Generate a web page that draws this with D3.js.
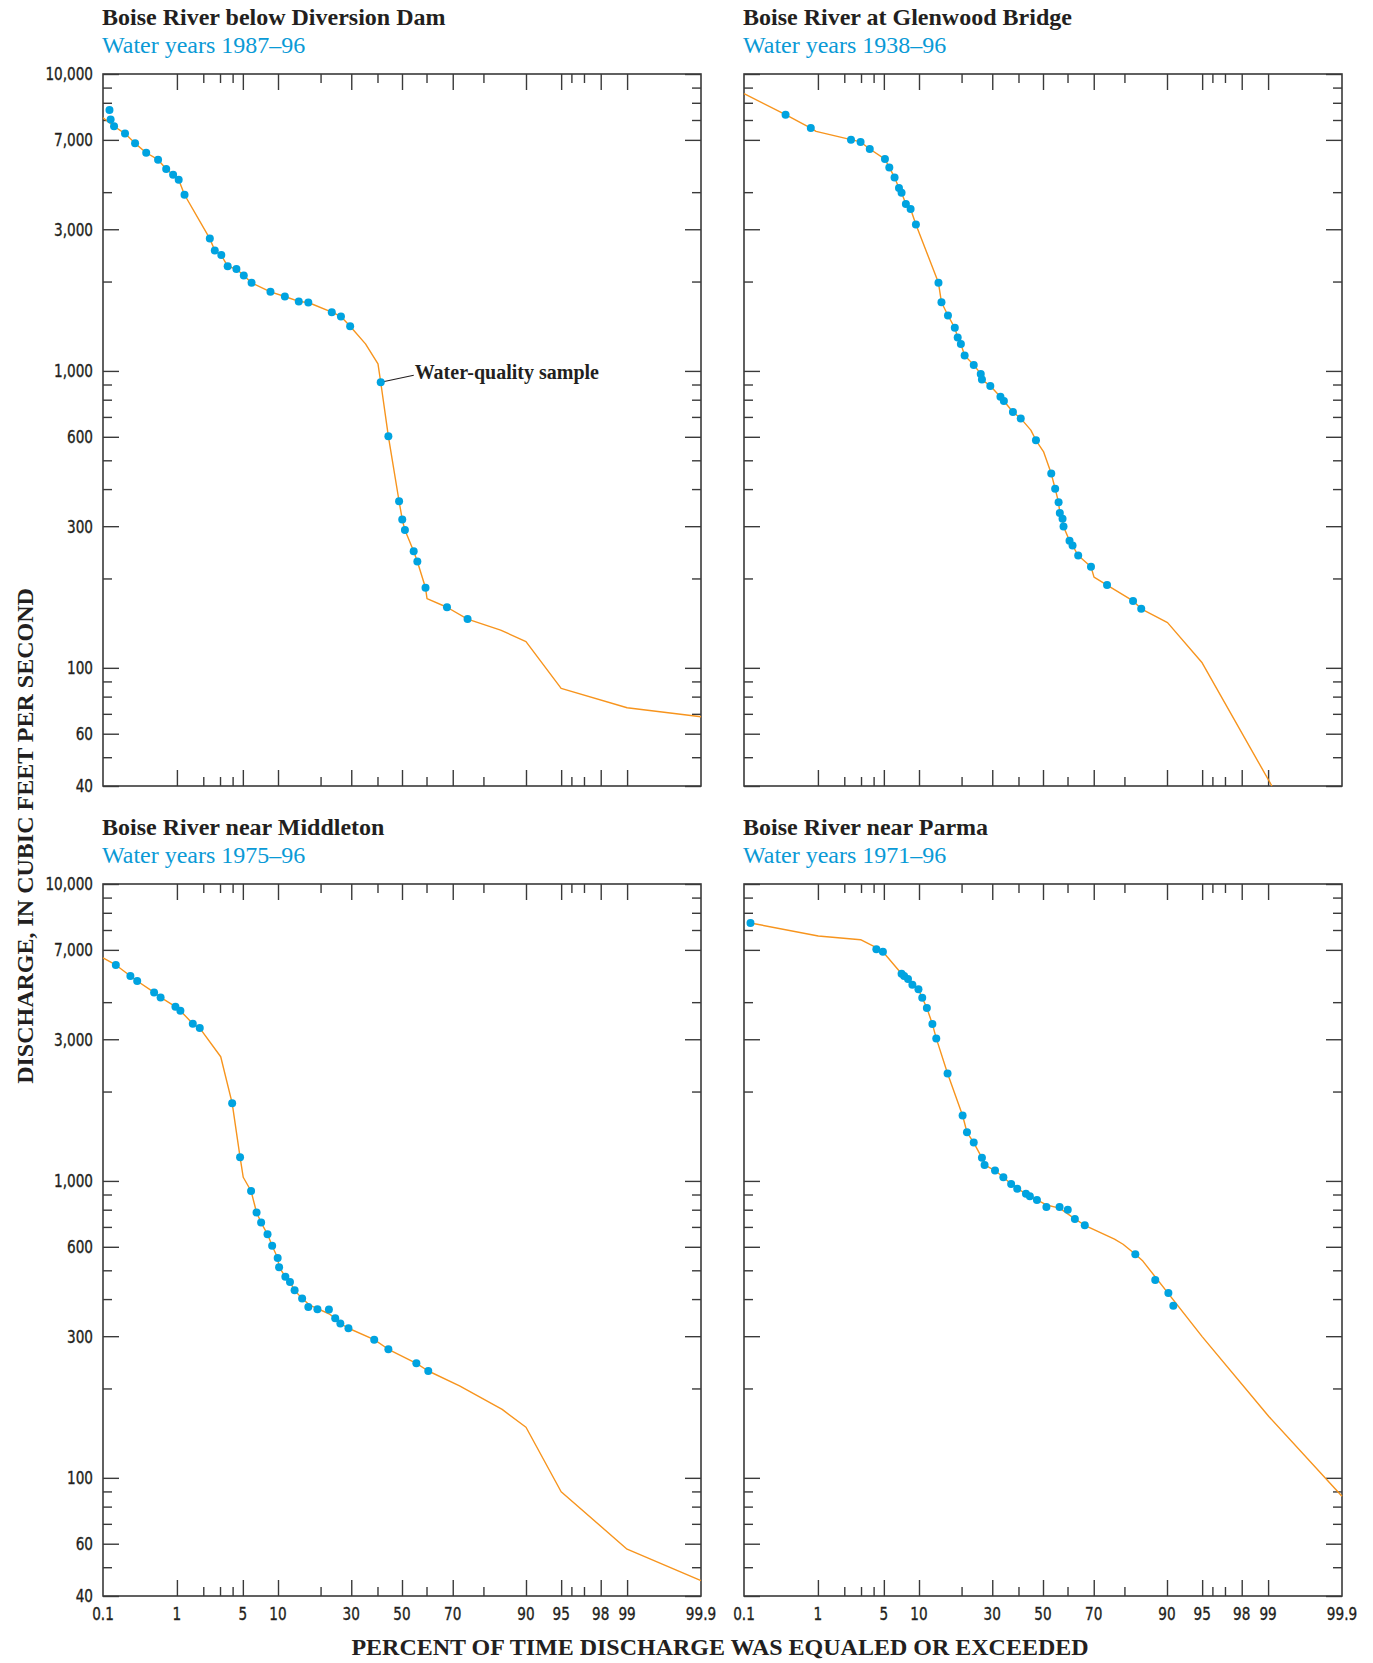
<!DOCTYPE html>
<html>
<head>
<meta charset="utf-8">
<script src="https://cdn.jsdelivr.net/npm/d3@7"></script>
<style>
  body { margin: 0; background: #fff; }
  svg { display: block; }
  .title { font-family: "Liberation Serif", "Times New Roman", serif; font-weight: bold; font-size: 24px; fill: #231f20; }
  .years { font-family: "Liberation Serif", "Times New Roman", serif; font-size: 24px; fill: #0a9ad6; }
  .tickLabel { font-family: "DejaVu Sans Condensed", "DejaVu Sans", sans-serif; font-size: 18px; fill: #231f20; stroke: #231f20; stroke-width: 0.35px; }
  .axisTitle { font-family: "Liberation Serif", "Times New Roman", serif; font-weight: bold; font-size: 24px; fill: #231f20; }
  .note { font-family: "Liberation Serif", "Times New Roman", serif; font-weight: bold; font-size: 20px; fill: #231f20; }
</style>
</head>
<body>
<svg id="chart" width="1373" height="1663"></svg>
<script>

// ---------------------------
// DATA  [percent exceeded, discharge ft3/s]
// ---------------------------

const titles = [
    "Boise River below Diversion Dam",
    "Boise River at Glenwood Bridge",
    "Boise River near Middleton",
    "Boise River near Parma"
];
const yearLabels = ["Water years 1987–96", "Water years 1938–96", "Water years 1975–96", "Water years 1971–96"];

const diversionLine = [
    [0.1, 7125], [0.146, 6670], [0.21, 6300], [0.29, 5840], [0.41, 5430], [0.585, 5145], [0.74, 4785],
    [0.9, 4580], [1.05, 4405], [1.23, 3920], [2.35, 2790], [2.65, 2545], [3.09, 2455], [3.58, 2250],
    [4.35, 2205], [5.1, 2096], [6.0, 1980], [8.7, 1847], [11.3, 1781], [14.3, 1714], [16.65, 1700],
    [23.4, 1577], [26.4, 1525], [29.6, 1414], [35.3, 1233], [40.2, 1056], [41.3, 916], [44.4, 602],
    [48.8, 364], [50.1, 316], [51.2, 291], [54.8, 247], [56.3, 228], [59.6, 186], [60.2, 171],
    [67.9, 160], [75.1, 146], [84.6, 134], [90, 122.6], [95, 85.3], [99, 73.4], [99.9, 68.4]
];
const diversionDots = [
    [0.125, 7570], [0.13, 7030], [0.146, 6670], [0.21, 6300], [0.29, 5840], [0.41, 5430], [0.585, 5145],
    [0.74, 4785], [0.9, 4580], [1.05, 4405], [1.23, 3920], [2.35, 2790], [2.65, 2545], [3.09, 2455],
    [3.58, 2250], [4.35, 2205], [5.1, 2096], [6.0, 1980], [8.7, 1847], [11.3, 1781], [14.3, 1714],
    [16.65, 1700], [23.4, 1577], [26.4, 1525], [29.6, 1414], [41.3, 916], [44.4, 602], [48.8, 364],
    [50.1, 316], [51.2, 291], [54.8, 247], [56.3, 228], [59.6, 186], [67.9, 160], [75.1, 146]
];

const glenwoodLine = [
    [0.1, 8590], [0.39, 7295], [0.82, 6575], [0.95, 6410], [2.36, 6010], [2.97, 5905], [3.67, 5590],
    [5.12, 5170], [5.61, 4845], [6.25, 4485], [6.83, 4130], [7.19, 3983], [7.82, 3647], [8.56, 3510],
    [9.45, 3115], [14.0, 1980], [14.7, 1703], [16.3, 1537], [18.1, 1397], [18.9, 1295], [19.8, 1233],
    [20.9, 1127], [23.7, 1048], [26.0, 977], [26.4, 935], [29.3, 890], [33.0, 819], [34.3, 792],
    [37.8, 727], [40.9, 692], [45.0, 632], [47.1, 584], [50.2, 535], [53.4, 451], [55.0, 401],
    [56.4, 361], [56.9, 332], [58.0, 318], [58.4, 299], [60.8, 268], [62.0, 258], [64.2, 239],
    [69.0, 219], [70.1, 202], [74.6, 190], [82.4, 168], [84.5, 158], [90.1, 142], [95.0, 104], [99.1, 40]
];
const glenwoodDots = [
    [0.39, 7295], [0.82, 6575], [2.36, 6010], [2.97, 5905], [3.67, 5590], [5.12, 5170], [5.61, 4845],
    [6.25, 4485], [6.83, 4130], [7.19, 3983], [7.82, 3647], [8.56, 3510], [9.45, 3115], [14.0, 1980],
    [14.7, 1703], [16.3, 1537], [18.1, 1397], [18.9, 1295], [19.8, 1233], [20.9, 1127], [23.7, 1048],
    [26.0, 977], [26.4, 935], [29.3, 890], [33.0, 819], [34.3, 792], [37.8, 727], [40.9, 692],
    [47.1, 584], [53.4, 451], [55.0, 401], [56.4, 361], [56.9, 332], [58.0, 318], [58.4, 299],
    [60.8, 268], [62.0, 258], [64.2, 239], [69.0, 219], [74.6, 190], [82.4, 168], [84.5, 158]
];

const middletonLine = [
    [0.1, 5640], [0.155, 5337], [0.25, 4898], [0.31, 4712], [0.52, 4313], [0.63, 4150], [0.96, 3862],
    [1.1, 3743], [1.53, 3383], [1.83, 3271], [3.05, 2620], [3.96, 1828], [4.71, 1202], [5.04, 1029],
    [5.94, 925], [6.64, 783], [7.27, 724], [8.23, 661], [8.98, 605], [9.94, 550], [10.2, 512],
    [11.4, 476], [12.35, 457], [13.35, 428], [15.1, 402], [17.0, 382], [22.5, 357], [24.5, 345],
    [26.2, 331], [29.0, 319], [38.7, 292], [44.4, 271], [55.9, 243], [60.7, 229], [72.4, 204],
    [84.97, 170], [90, 148], [95, 89.8], [99, 57.5], [99.9, 45.1]
];
const middletonDots = [
    [0.155, 5337], [0.25, 4898], [0.31, 4712], [0.52, 4313], [0.63, 4150], [0.96, 3862], [1.1, 3743],
    [1.53, 3383], [1.83, 3271], [3.96, 1828], [4.71, 1202], [5.94, 925], [6.64, 783], [7.27, 724],
    [8.23, 661], [8.98, 605], [9.94, 550], [10.2, 512], [11.4, 476], [12.35, 457], [13.35, 428],
    [15.1, 402], [16.65, 376], [19.1, 370], [22.5, 369], [24.5, 345], [26.2, 331], [29.0, 319],
    [38.7, 292], [44.4, 271], [55.9, 243], [60.7, 229]
];

const parmaLine = [
    [0.125, 7391], [1.01, 6680], [2.97, 6490], [4.25, 6100], [4.9, 5915], [7.19, 4985], [7.56, 4898],
    [8.15, 4785], [8.85, 4580], [9.9, 4417], [10.6, 4140], [11.5, 3820], [12.65, 3375], [13.5, 3020],
    [16.2, 2300], [20.3, 1661], [21.6, 1458], [23.7, 1346], [26.4, 1196], [27.3, 1132], [31.0, 1084],
    [34.1, 1029], [37.1, 977], [39.5, 942], [43.0, 906], [44.6, 888], [47.5, 863], [51.4, 830],
    [56.8, 810], [62.9, 745], [66.7, 709], [77.0, 637], [79.6, 612], [83.0, 566], [84.9, 537],
    [95.0, 299], [99.02, 161], [99.9, 86.7]
];
const parmaDots = [
    [0.125, 7391], [4.25, 6025], [4.9, 5915], [7.19, 4985], [7.56, 4898], [8.15, 4785], [8.85, 4580],
    [9.9, 4417], [10.6, 4140], [11.5, 3820], [12.65, 3375], [13.5, 3020], [16.2, 2300], [20.3, 1661],
    [21.6, 1458], [23.7, 1346], [26.4, 1196], [27.3, 1132], [31.0, 1084], [34.1, 1029], [37.1, 977],
    [39.5, 942], [43.0, 906], [44.6, 888], [47.5, 863], [51.4, 817], [56.8, 817], [60.1, 800],
    [62.9, 745], [66.7, 709], [83.0, 566], [87.7, 464], [90.25, 419], [91.1, 380]
];

// axis ticks
const xMajor = [1, 5, 10, 30, 50, 70, 90, 95, 98, 99];
const xMinor = [2, 3, 4, 20, 40, 60, 80, 96, 97];
const xLabels = [0.1, 1, 5, 10, 30, 50, 70, 90, 95, 98, 99, 99.9];
const yMajor = [10000, 6000, 3000, 1000, 600, 300, 100, 60, 40];
const yMajorLabels = ["10,000", "7,000", "3,000", "1,000", "600", "300", "100", "60", "40"];
const yMinor = [9000, 8000, 7000, 4000, 2000, 900, 800, 700, 500, 400, 200, 90, 80, 70, 50];

const sample = [41.3, 916];   // water-quality sample that gets the callout

// ---------------------------
// SETTINGS
// ---------------------------

const innerWidth = 598;
const innerHeight = 712;
const lineColor = "#f7941d";
const dotColor = "#00a3e0";
const frameColor = "#3a3a3a";
const longTick = 16;
const shortTick = 9;
const labelSqueeze = 0.84;   // tick labels are set in a condensed face

// inverse normal cdf (Acklam) for the probability axis
const probit = (p) => {
    const a = [-39.69683028665376, 220.9460984245205, -275.9285104469687, 138.3577518672690, -30.66479806614716, 2.506628277459239];
    const b = [-54.47609879822406, 161.5858368580409, -155.6989798598866, 66.80131188771972, -13.28068155288572];
    const c = [-0.007784894002430293, -0.3223964580411365, -2.400758277161838, -2.549732539343734, 4.374664141464968, 2.938163982698783];
    const d = [0.007784695709041462, 0.3224671290700398, 2.445134137142996, 3.754408661907416];
    const pl = 0.02425;
    if (p < pl) {
        const q = Math.sqrt(-2 * Math.log(p));
        return (((((c[0]*q+c[1])*q+c[2])*q+c[3])*q+c[4])*q+c[5]) / ((((d[0]*q+d[1])*q+d[2])*q+d[3])*q+1);
    }
    if (p <= 1 - pl) {
        const q = p - 0.5, r = q * q;
        return (((((a[0]*r+a[1])*r+a[2])*r+a[3])*r+a[4])*r+a[5])*q / (((((b[0]*r+b[1])*r+b[2])*r+b[3])*r+b[4])*r+1);
    }
    const q = Math.sqrt(-2 * Math.log(1 - p));
    return -(((((c[0]*q+c[1])*q+c[2])*q+c[3])*q+c[4])*q+c[5]) / ((((d[0]*q+d[1])*q+d[2])*q+d[3])*q+1);
};

const zScale = d3.scaleLinear()
    .domain([probit(0.001), probit(0.999)])
    .range([0, innerWidth]);
const xScale = p => zScale(probit(p / 100));

const yScale = d3.scaleLog()
    .domain([40, 10000])
    .range([innerHeight, 0]);

const svg = d3.select("#chart");

const panels = [
    { title: titles[0], years: yearLabels[0], line: diversionLine, dots: diversionDots, x: 103, y: 74, yLabels: true, xLabels: false },
    { title: titles[1], years: yearLabels[1], line: glenwoodLine, dots: glenwoodDots, x: 744, y: 74, yLabels: false, xLabels: false },
    { title: titles[2], years: yearLabels[2], line: middletonLine, dots: middletonDots, x: 103, y: 884, yLabels: true, xLabels: true },
    { title: titles[3], years: yearLabels[3], line: parmaLine, dots: parmaDots, x: 744, y: 884, yLabels: false, xLabels: true }
];

// squeeze label glyphs so they look condensed
const squeeze = (sel) => {
    sel.each(function () {
        const w = this.getComputedTextLength();
        d3.select(this)
            .attr("textLength", w * labelSqueeze)
            .attr("lengthAdjust", "spacingAndGlyphs");
    });
};

// ---------------------------
// DRAW PANELS
// ---------------------------

const drawPanel = (panel, i) => {

    const g = svg.append("g")
        .attr("transform", `translate(${panel.x}, ${panel.y})`);

    // titles
    g.append("text")
        .attr("class", "title")
        .attr("x", -1)
        .attr("y", -49)
        .text(panel.title);

    g.append("text")
        .attr("class", "years")
        .attr("x", -1)
        .attr("y", -21)
        .text(panel.years);

    // ticks: bottom / top / left / right, all pointing inward
    const zMajor = xMajor.map(p => probit(p / 100));
    const zMinor = xMinor.map(p => probit(p / 100));

    const tickAxes = [
        { axis: d3.axisBottom(zScale), vals: zMajor, size: -longTick, tr: `translate(0, ${innerHeight})` },
        { axis: d3.axisBottom(zScale), vals: zMinor, size: -shortTick, tr: `translate(0, ${innerHeight})` },
        { axis: d3.axisTop(zScale), vals: zMajor, size: -longTick, tr: "translate(0, 0)" },
        { axis: d3.axisTop(zScale), vals: zMinor, size: -shortTick, tr: "translate(0, 0)" },
        { axis: d3.axisLeft(yScale), vals: yMajor, size: -longTick, tr: "translate(0, 0)" },
        { axis: d3.axisLeft(yScale), vals: yMinor, size: -shortTick, tr: "translate(0, 0)" },
        { axis: d3.axisRight(yScale), vals: yMajor, size: -longTick, tr: `translate(${innerWidth}, 0)` },
        { axis: d3.axisRight(yScale), vals: yMinor, size: -shortTick, tr: `translate(${innerWidth}, 0)` }
    ];

    tickAxes.forEach(t => {
        const a = g.append("g")
            .attr("transform", t.tr)
            .call(t.axis.tickValues(t.vals).tickSizeInner(t.size).tickSizeOuter(0));
        a.select(".domain").remove();
        a.selectAll("text").remove();
        a.selectAll("line")
            .attr("stroke", frameColor)
            .attr("stroke-width", 1.4);
    });

    // tick labels
    if (panel.yLabels) {
        g.append("g")
            .selectAll("text")
            .data(yMajor)
            .join("text")
            .attr("class", "tickLabel")
            .attr("x", -10)
            .attr("y", d => yScale(d))
            .attr("dy", "0.36em")
            .attr("text-anchor", "end")
            .text((d, j) => yMajorLabels[j])
            .call(squeeze);
    }

    if (panel.xLabels) {
        g.append("g")
            .selectAll("text")
            .data(xLabels)
            .join("text")
            .attr("class", "tickLabel")
            .attr("x", d => xScale(d))
            .attr("y", innerHeight + 24)
            .attr("text-anchor", "middle")
            .text(d => d)
            .call(squeeze);
    }

    // frame
    g.append("rect")
        .attr("width", innerWidth)
        .attr("height", innerHeight)
        .attr("fill", "none")
        .attr("stroke", frameColor)
        .attr("stroke-width", 1.6);

    // duration curve
    const lineGen = d3.line()
        .x(d => xScale(d[0]))
        .y(d => yScale(d[1]));

    g.append("path")
        .datum(panel.line)
        .attr("d", lineGen)
        .attr("fill", "none")
        .attr("stroke", lineColor)
        .attr("stroke-width", 1.4)
        .attr("stroke-linejoin", "round");

    // callout on the first panel
    if (i === 0) {
        const sx = xScale(sample[0]);
        const sy = yScale(sample[1]);
        g.append("line")
            .attr("x1", sx)
            .attr("y1", sy)
            .attr("x2", sx + 33)
            .attr("y2", sy - 7)
            .attr("stroke", "#231f20")
            .attr("stroke-width", 1.2);
        g.append("text")
            .attr("class", "note")
            .attr("x", sx + 34)
            .attr("y", sy - 3)
            .text("Water-quality sample");
    }

    // sample dots
    g.append("g")
        .selectAll("circle")
        .data(panel.dots)
        .join("circle")
        .attr("cx", d => xScale(d[0]))
        .attr("cy", d => yScale(d[1]))
        .attr("r", 4)
        .attr("fill", dotColor);
};

panels.forEach(drawPanel);

// ---------------------------
// AXIS TITLES
// ---------------------------

svg.append("text")
    .attr("class", "axisTitle")
    .attr("text-anchor", "middle")
    .attr("transform", "translate(33, 836) rotate(-90)")
    .text("DISCHARGE, IN CUBIC FEET PER SECOND");

svg.append("text")
    .attr("class", "axisTitle")
    .attr("text-anchor", "middle")
    .attr("x", 720)
    .attr("y", 1655)
    .text("PERCENT OF TIME DISCHARGE WAS EQUALED OR EXCEEDED");

</script>
</body>
</html>
